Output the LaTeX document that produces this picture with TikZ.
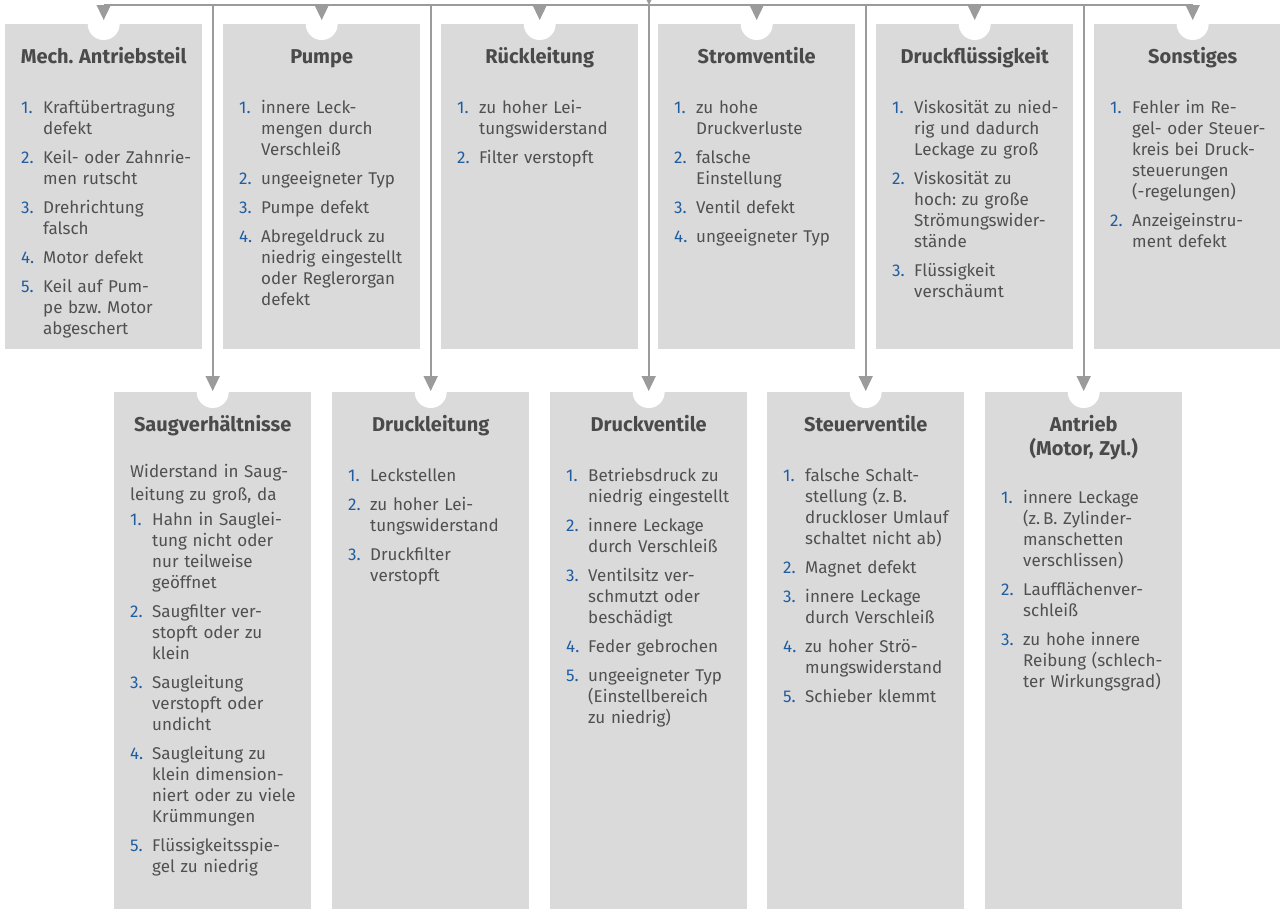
\documentclass[tikz,border=0pt]{standalone}
\usepackage{fontspec}
\setmainfont{Fira Sans}
\usetikzlibrary{arrows.meta, positioning, calc}
\frenchspacing

\definecolor{panelgrey}{HTML}{DADADA}
\definecolor{linegrey}{HTML}{9B9B9B}
\definecolor{headgrey}{HTML}{4A4A4A}
\definecolor{textgrey}{HTML}{505050}
\definecolor{numblue}{HTML}{1F5DA0}

% heading of a panel and one numbered cause
\newcommand{\panelhead}[1]{{\centering\setlength{\leftskip}{-20pt plus 1fil}%
  \setlength{\rightskip}{-13pt plus 1fil}%
  \fontsize{20}{24}\selectfont\bfseries
  \leavevmode\rule{0pt}{17pt}\color{headgrey}#1\par}\vspace{29pt}}
\newcommand{\fault}[2]{{\let\\\newline\hangindent=22pt\hangafter=1\noindent
  \makebox[22pt][l]{\color{numblue}#1.}#2\par}\vspace{8pt}}

\begin{document}
\begin{tikzpicture}[
		x=1pt, y=-1pt,
		panel/.style={fill=panelgrey, inner sep=0pt, minimum width=197pt, anchor=north west},
		top panel/.style={panel, minimum height=325pt},
		low panel/.style={panel, minimum height=530pt},
		body/.style={anchor=north west, inner sep=0pt, text width=172pt, text=textgrey,
			font=\fontsize{17}{21}\selectfont},
		bus/.style={draw=linegrey, line width=1.6pt},
		conn/.style={bus, -{Triangle[length=15pt, width=14pt]}}
		]
		\useasboundingbox (0,0) rectangle (1280,908);
		\clip (0,0) rectangle (1280,908);
		\fill[white] (0,0) rectangle (1280,908);
		
		% Panels, upper row
		\node[top panel] (mech)  at (5,24)    {};
		\node[top panel] (pumpe) at (223,24)  {};
		\node[top panel] (rueck) at (441,24)  {};
		\node[top panel] (strom) at (658,24)  {};
		\node[top panel] (fluid) at (876,24)  {};
		\node[top panel] (sonst) at (1094,24) {};
		
		% Panels, lower row
		\node[low panel] (saug)    at (114,392) {};
		\node[low panel] (druckl)  at (332,392) {};
		\node[low panel] (druckv)  at (550,392) {};
		\node[low panel] (steuer)  at (767,392) {};
		\node[low panel] (antrieb) at (985,392) {};
		
		% Notches
		\fill[white] (mech.north) circle (16pt) (pumpe.north) circle (16pt)
		(rueck.north) circle (16pt) (strom.north) circle (16pt)
		(fluid.north) circle (16pt) (sonst.north) circle (16pt)
		(saug.north) circle (16pt) (druckl.north) circle (16pt)
		(druckv.north) circle (16pt) (steuer.north) circle (16pt)
		(antrieb.north) circle (16pt);
		
		% Texts, upper row
		\node[body] (mech-t) at ([xshift=16pt, yshift=-22pt]mech.north west) {\panelhead{Mech. Antriebsteil}
			\fault{1}{Kraftübertragung\\defekt}
			\fault{2}{Keil- oder Zahnrie-\\men rutscht}
			\fault{3}{Drehrichtung\\falsch}
			\fault{4}{Motor defekt}
			\fault{5}{Keil auf Pum-\\pe bzw. Motor\\abgeschert}};
		\node[body] (pumpe-t) at ([xshift=16pt, yshift=-22pt]pumpe.north west) {\panelhead{Pumpe}
			\fault{1}{innere Leck-\\mengen durch\\Verschleiß}
			\fault{2}{ungeeigneter Typ}
			\fault{3}{Pumpe defekt}
			\fault{4}{Abregeldruck zu\\niedrig eingestellt\\oder Reglerorgan\\defekt}};
		\node[body] (rueck-t) at ([xshift=16pt, yshift=-22pt]rueck.north west) {\panelhead{Rückleitung}
			\fault{1}{zu hoher Lei-\\tungswiderstand}
			\fault{2}{Filter verstopft}};
		\node[body] (strom-t) at ([xshift=16pt, yshift=-22pt]strom.north west) {\panelhead{Stromventile}
			\fault{1}{zu hohe\\Druckverluste}
			\fault{2}{falsche\\Einstellung}
			\fault{3}{Ventil defekt}
			\fault{4}{ungeeigneter Typ}};
		\node[body] (fluid-t) at ([xshift=16pt, yshift=-22pt]fluid.north west) {\panelhead{Druckflüssigkeit}
			\fault{1}{Viskosität zu nied-\\rig und dadurch\\Leckage zu groß}
			\fault{2}{Viskosität zu\\hoch: zu große\\Strömungswider-\\stände}
			\fault{3}{Flüssigkeit\\verschäumt}};
		\node[body] (sonst-t) at ([xshift=16pt, yshift=-22pt]sonst.north west) {\panelhead{Sonstiges}
			\fault{1}{Fehler im Re-\\gel- oder Steuer-\\kreis bei Druck-\\steuerungen\\(-regelungen)}
			\fault{2}{Anzeigeinstru-\\ment defekt}};
		
		% Texts, lower row
		\node[body] (saug-t) at ([xshift=16pt, yshift=-22pt]saug.north west) {\panelhead{Saugverhältnisse}\vspace{-6pt}
			{\setlength{\baselineskip}{23pt}\let\\\newline\noindent Widerstand in Saug-\\leitung zu groß, da\par}\vspace{4pt}
			\fault{1}{Hahn in Sauglei-\\tung nicht oder\\nur teilweise\\geöffnet}
			\fault{2}{Saugfilter ver-\\stopft oder zu\\klein}
			\fault{3}{Saugleitung\\verstopft oder\\undicht}
			\fault{4}{Saugleitung zu\\klein dimension-\\niert oder zu viele\\Krümmungen}
			\fault{5}{Flüssigkeitsspie-\\gel zu niedrig}};
		\node[body] (druckl-t) at ([xshift=16pt, yshift=-22pt]druckl.north west) {\panelhead{Druckleitung}
			\fault{1}{Leckstellen}
			\fault{2}{zu hoher Lei-\\tungswiderstand}
			\fault{3}{Druckfilter\\verstopft}};
		\node[body] (druckv-t) at ([xshift=16pt, yshift=-22pt]druckv.north west) {\panelhead{Druckventile}
			\fault{1}{Betriebsdruck zu\\niedrig eingestellt}
			\fault{2}{innere Leckage\\durch Verschleiß}
			\fault{3}{Ventilsitz ver-\\schmutzt oder\\beschädigt}
			\fault{4}{Feder gebrochen}
			\fault{5}{ungeeigneter Typ\\(Einstellbereich\\zu niedrig)}};
		\node[body] (steuer-t) at ([xshift=16pt, yshift=-22pt]steuer.north west) {\panelhead{Steuerventile}
			\fault{1}{falsche Schalt-\\stellung (z.\,B.\\druckloser Umlauf\\schaltet nicht ab)}
			\fault{2}{Magnet defekt}
			\fault{3}{innere Leckage\\durch Verschleiß}
			\fault{4}{zu hoher Strö-\\mungswiderstand}
			\fault{5}{Schieber klemmt}};
		\node[body] (antrieb-t) at ([xshift=16pt, yshift=-22pt]antrieb.north west) {\panelhead{Antrieb\\(Motor, Zyl.)}\vspace{-2pt}
			\fault{1}{innere Leckage\\(z.\,B. Zylinder-\\manschetten\\verschlissen)}
			\fault{2}{Laufflächenver-\\schleiß}
			\fault{3}{zu hohe innere\\Reibung (schlech-\\ter Wirkungsgrad)}};
		
		% Distribution line
		\coordinate (bus) at (649,5);
		\coordinate (feed) at (649,-30);
		\draw[conn] (feed) -- (bus);
		\draw[bus] (mech.north |- bus) -- (sonst.north |- bus);
		
		% Arrows to the upper row
		\draw[conn] (mech.north |- bus) -- ([yshift=4pt]mech.north);
		\draw[conn] (pumpe.north |- bus) -- ([yshift=4pt]pumpe.north);
		\draw[conn] (rueck.north |- bus) -- ([yshift=4pt]rueck.north);
		\draw[conn] (strom.north |- bus) -- ([yshift=4pt]strom.north);
		\draw[conn] (fluid.north |- bus) -- ([yshift=4pt]fluid.north);
		\draw[conn] (sonst.north |- bus) -- ([yshift=4pt]sonst.north);
		
		% Arrows to the lower row
		\draw[conn] (saug.north |- bus) -- ([yshift=1pt]saug.north);
		\draw[conn] (druckl.north |- bus) -- ([yshift=1pt]druckl.north);
		\draw[conn] (druckv.north |- bus) -- ([yshift=1pt]druckv.north);
		\draw[conn] (steuer.north |- bus) -- ([yshift=1pt]steuer.north);
		\draw[conn] (antrieb.north |- bus) -- ([yshift=1pt]antrieb.north);
		
	\end{tikzpicture}
\end{document}
